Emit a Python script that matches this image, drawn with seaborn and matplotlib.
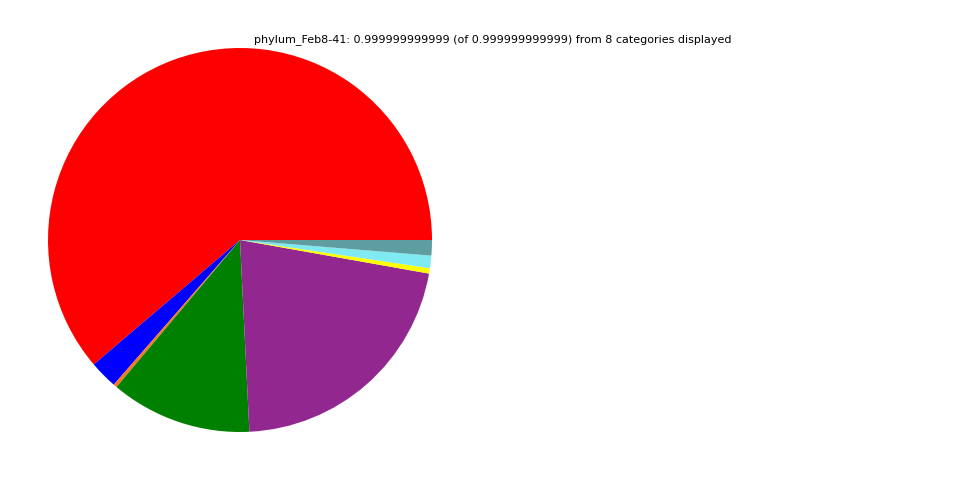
import matplotlib
matplotlib.use('Agg')
import matplotlib.pyplot as plt
import seaborn as sns

sns.set_style('white')
plt.rcParams['font.family'] = ['DejaVu Sans']

# phylum shares, counter-clockwise from 3 o'clock
CATEGORIES = ['cat1', 'cat2', 'cat3', 'cat4', 'cat5', 'cat6', 'cat7', 'cat8']
SHARES     = [0.6122, 0.0236, 0.003, 0.119, 0.2142, 0.0045, 0.0105, 0.013]
COLORS     = ['#ff0000', '#0000ff', '#f47a20', '#008000', '#92278f',
              '#ffff00', '#7feaf2', '#5f9ea0']
TITLE      = ('phylum_Feb8-41: 0.999999999999 (of 0.999999999999) '
              'from 8 categories displayed')

fig = plt.figure(figsize=(9.6, 4.8), dpi=100)
ax = fig.add_axes([48/960, 48/480, 384/960, 384/480])
ax.pie(SHARES, colors=COLORS, startangle=0, counterclock=True,
       wedgeprops={'linewidth': 0})
ax.set_xlim(-1, 1); ax.set_ylim(-1, 1)
ax.set_aspect('equal')
ax.axis('off')

fig.text(493/960, 1 - 40/480, TITLE, ha='center', va='center', fontsize=8,
         color='black')

plt.savefig('out.png', dpi=100)
plt.close()
